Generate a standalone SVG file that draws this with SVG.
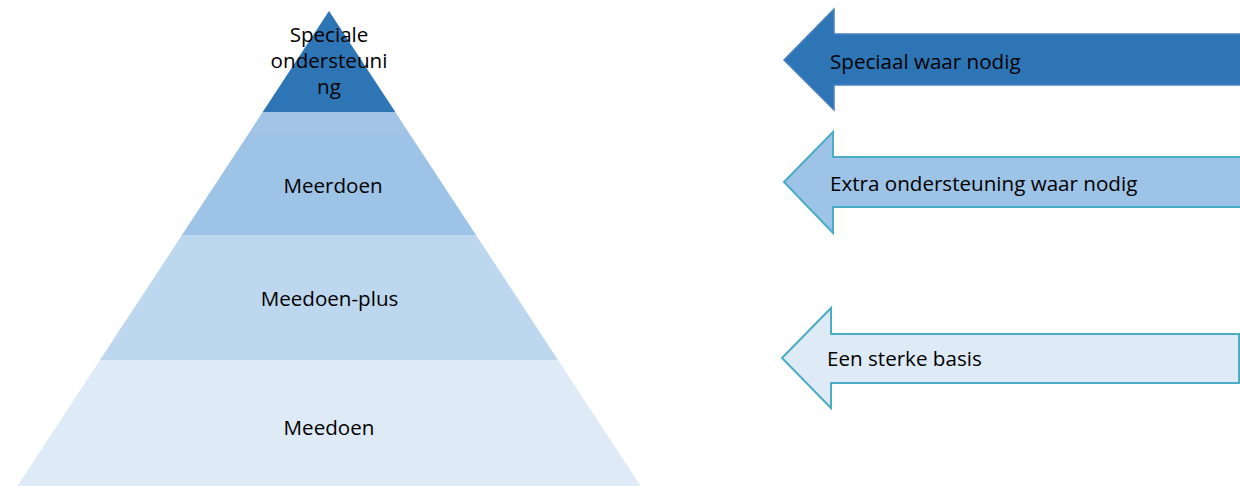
<svg xmlns="http://www.w3.org/2000/svg" width="1240" height="486" viewBox="0 0 1240 486">
  <style>
    .t { font-family: "Open Sans", "Liberation Sans", sans-serif; font-size: 20.6px; fill: #000; }
    .c { text-anchor: middle; }
    .arr2 { fill: #9dc3e6; stroke: #4bacc6; stroke-width: 2; }
    .arr3 { fill: #deebf7; stroke: #4bacc6; stroke-width: 2; }
    .arr1 { fill: #2e75b6; stroke: #4a80c2; stroke-width: 1.5; }
  </style>
  <rect width="1240" height="486" fill="#ffffff"/>
  <g id="pyramid">
    <g id="level-speciale">
      <polygon points="329,11 395.3,112 262.7,112" fill="#2e75b6"/>
      <text class="t c" x="329" y="42">Speciale</text>
      <text class="t c" x="329" y="68">ondersteuni</text>
      <text class="t c" x="329" y="94">ng</text>
    </g>
    <g id="level-meerdoen">
      <polygon points="262.7,112 395.3,112 410.3,135 247.7,135" fill="#a2c5e7"/>
      <polygon points="247.7,135 410.3,135 476,235 182,235" fill="#9dc3e6"/>
      <text class="t c" x="333" y="193">Meerdoen</text>
    </g>
    <g id="level-meedoen-plus">
      <polygon points="182,235 476,235 558,360 100,360" fill="#bdd7ee"/>
      <text class="t c" x="329.5" y="306">Meedoen-plus</text>
    </g>
    <g id="level-meedoen">
      <polygon points="100,360 558,360 640.6,486 17.4,486" fill="#deeaf6"/>
      <text class="t c" x="329" y="435">Meedoen</text>
    </g>
  </g>
  <g id="arrows">
    <g id="arrow-speciaal">
      <polygon class="arr1" points="784,60 834,9 834,34 1241,34 1241,85 834,85 834,110"/>
      <text class="t" x="830" y="69">Speciaal waar nodig</text>
    </g>
    <g id="arrow-extra">
      <polygon class="arr2" points="784,182 833,132 833,157 1241,157 1241,207 833,207 833,233"/>
      <text class="t" x="830" y="191">Extra ondersteuning waar nodig</text>
    </g>
    <g id="arrow-basis">
      <polygon class="arr3" points="782,358 831,308 831,334 1239,334 1239,383 831,383 831,408"/>
      <text class="t" x="827" y="366">Een sterke basis</text>
    </g>
  </g>
</svg>
